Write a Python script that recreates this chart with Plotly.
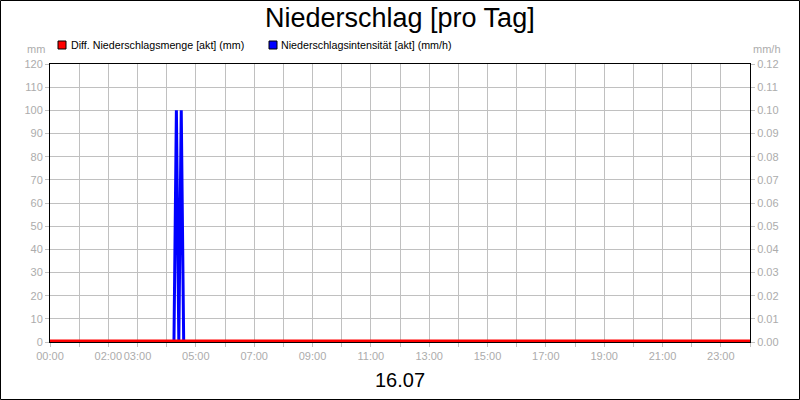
import plotly.graph_objects as go

# day shown on the chart
day = "2024-07-16"

# x tick labels shown under the axis
tick_hours = ["00:00", "02:00", "03:00", "05:00", "07:00", "09:00", "11:00",
              "13:00", "15:00", "17:00", "19:00", "21:00", "23:00"]

# Niederschlagsintensitaet [akt] (mm/h)
int_times = ["00:00", "04:15", "04:20", "04:25", "04:30", "04:35", "23:59:59"]
int_values = [0, 0, 0.10, 0, 0.10, 0, 0]

# Diff. Niederschlagsmenge [akt] (mm)
diff_times = ["00:00", "23:59:59"]
diff_values = [0, 0]

W, H = 800, 400
L, R, T, B = 50, 50, 64, 58
PW, PH = W - L - R, H - T - B

GRID = "#c0c0c0"
TICKFONT = dict(family="Liberation Sans, Arial", size=11, color="#acacac")


def px(x):
    return (x - L) / PW


def py(y):
    return (H - B - y) / PH


fig = go.Figure()

fig.add_trace(go.Scatter(
    x=[f"{day} {t}" for t in int_times], y=int_values,
    mode="lines", line=dict(color="#0000ff", width=3),
    name="Niederschlagsintensität [akt] (mm/h)", yaxis="y", showlegend=False))

# drawn on top; half of the line is clipped at the zero line
fig.add_trace(go.Scatter(
    x=[f"{day} {t}" for t in diff_times], y=diff_values,
    mode="lines", line=dict(color="#ff0000", width=5),
    name="Diff. Niederschlagsmenge [akt] (mm)", yaxis="y2", showlegend=False))

fig.update_layout(
    width=W, height=H,
    margin=dict(l=L, r=R, t=T, b=B),
    paper_bgcolor="white", plot_bgcolor="white",
    font=dict(family="Liberation Sans, Arial", size=11, color="black"),
    xaxis=dict(
        type="date",
        range=[f"{day} 00:00", "2024-07-17 00:00"],
        tickvals=[f"{day} {t}" for t in tick_hours],
        ticktext=tick_hours, tickangle=0, automargin=False,
        tickfont=TICKFONT,
        ticks="outside", ticklen=4, tickcolor=GRID,
        showgrid=True, gridcolor=GRID, gridwidth=1,
        minor=dict(dtick=3600000, ticks="outside", ticklen=4, tickcolor=GRID,
                   showgrid=True, gridcolor=GRID, gridwidth=1),
        showline=True, linecolor="black", linewidth=1, mirror=True,
        zeroline=False, fixedrange=True,
    ),
    yaxis=dict(
        side="right", range=[0, 0.12], dtick=0.01, tickformat=".2f",
        automargin=False,
        tickfont=TICKFONT, ticks="outside", ticklen=4, tickcolor=GRID,
        showgrid=True, gridcolor=GRID, gridwidth=1,
        showline=True, linecolor="black", linewidth=1,
        zeroline=False,
    ),
    yaxis2=dict(
        side="left", overlaying="y", range=[0, 120], dtick=10,
        automargin=False,
        tickfont=TICKFONT, ticks="outside", ticklen=4, tickcolor=GRID,
        showgrid=False,
        showline=True, linecolor="black", linewidth=1,
        zeroline=False,
    ),
)

shapes = [
    # outer frame
    dict(type="rect", xref="paper", yref="paper",
         x0=px(0.5), x1=px(W - 0.5), y0=py(H - 0.5), y1=py(0.5),
         line=dict(color="black", width=1)),
    # legend squares
    dict(type="rect", xref="paper", yref="paper",
         x0=px(58), x1=px(66), y0=py(49), y1=py(41),
         fillcolor="#ff0000", line=dict(color="black", width=1)),
    dict(type="rect", xref="paper", yref="paper",
         x0=px(269), x1=px(277), y0=py(49), y1=py(41),
         fillcolor="#0000ff", line=dict(color="black", width=1)),
]
fig.update_layout(shapes=shapes)

annotations = [
    dict(text="Niederschlag [pro Tag]", x=px(400), y=py(18),
         xanchor="center", yanchor="middle",
         font=dict(size=27, color="black")),
    dict(text="Diff. Niederschlagsmenge [akt] (mm)", x=px(69), y=py(45),
         xanchor="left", yanchor="middle", font=dict(size=10.7, color="black")),
    dict(text="Niederschlagsintensität [akt] (mm/h)", x=px(279), y=py(45),
         xanchor="left", yanchor="middle", font=dict(size=10.7, color="black")),
    dict(text="mm", x=px(47), y=py(49), xanchor="right", yanchor="middle",
         font=TICKFONT),
    dict(text="mm/h", x=px(751), y=py(49), xanchor="left", yanchor="middle",
         font=TICKFONT),
    dict(text="16.07", x=px(400), y=py(380), xanchor="center",
         yanchor="middle", font=dict(size=20, color="black")),
]
for a in annotations:
    a.update(xref="paper", yref="paper", showarrow=False)
fig.update_layout(annotations=annotations)

fig.write_html(
    "out.html",
    config={"displayModeBar": False},
    post_script="document.body.style.margin='0';"
                "document.body.style.overflow='hidden';",
)
